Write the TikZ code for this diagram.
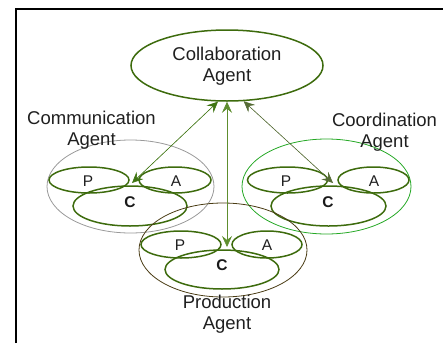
\documentclass[tikz,border=0pt]{standalone}
\usepackage{fontspec}
\setmainfont{Liberation Sans}
\usetikzlibrary{shapes.geometric,arrows.meta}
\definecolor{olivegr}{HTML}{3D6B0D}
\definecolor{arrA}{HTML}{3F7512}
\definecolor{arrB}{HTML}{5E8E2E}
\definecolor{arrC}{HTML}{556B35}
\definecolor{grpgray}{HTML}{9A9A9A}
\definecolor{grpgreen}{HTML}{25A825}
\definecolor{grpbrown}{HTML}{4A3C14}
\tikzset{
  sub/.style={ellipse, draw=olivegr, line width=1.5pt, inner sep=0pt},
  grp/.style={ellipse, line width=0.8pt, inner sep=0pt},
  big/.style={font=\fontsize{18.5}{21}\selectfont, align=center, text=black!88},
  letter/.style={font=\fontsize{15.5}{17}\selectfont, text=black!88},
  bletter/.style={font=\fontsize{15.5}{17}\selectfont\bfseries, text=black!90},
  tipshape/.style={},
  link/.style={line width=0.6pt, {Stealth[length=11pt,width=10pt,inset=4pt]}-{Stealth[length=11pt,width=10pt,inset=4pt]}}
}
\begin{document}
\begin{tikzpicture}[x=1pt,y=-1pt]
\useasboundingbox (0,0) rectangle (443,343);
% frame
\draw[line width=2pt] (16,343) -- (16,9) -- (443,9);

% collaboration agent
\node[sub, minimum width=192pt, minimum height=71pt] (collab) at (227,65.5) {};
\node[big] (collabtxt) at (227,66.5) {Collaboration\\Agent};

% communication agent
\node[grp, draw=grpgray, minimum width=167pt, minimum height=93pt] (comm) at (130.5,186.5) {};
\node[sub, minimum width=80pt, minimum height=26pt] (commP) at (89,180) {};
\node[sub, minimum width=72pt, minimum height=26pt] (commA) at (175,180) {};
\node[sub, minimum width=114pt, minimum height=40pt] (commC) at (130,206) {};
\node[letter] (commPt) at (88,181) {P};
\node[letter] (commAt) at (176,181) {A};
\node[bletter] (commCt) at (130,202) {C};
\node[big] (commtxt) at (91.5,130.5) {Communication\\Agent};

% coordination agent
\node[grp, draw=grpgreen, minimum width=169pt, minimum height=95pt] (coord) at (326.5,186.5) {};
\node[sub, minimum width=80pt, minimum height=26pt] (coordP) at (287.5,180) {};
\node[sub, minimum width=71pt, minimum height=26pt] (coordA) at (373.5,180) {};
\node[sub, minimum width=115pt, minimum height=40pt] (coordC) at (328.5,206) {};
\node[letter] (coordPt) at (286,181) {P};
\node[letter] (coordAt) at (374,181) {A};
\node[bletter] (coordCt) at (328,202) {C};
\node[big] (coordtxt) at (384.5,132.5) {Coordination\\Agent};

% production agent
\node[grp, draw=grpbrown, minimum width=168pt, minimum height=94pt] (prod) at (223,250) {};
\node[sub, minimum width=80pt, minimum height=27pt] (prodP) at (181,244.5) {};
\node[sub, minimum width=70pt, minimum height=27pt] (prodA) at (267,244.5) {};
\node[sub, minimum width=114pt, minimum height=39pt] (prodC) at (222,269.5) {};
\node[letter] (prodPt) at (180,245) {P};
\node[letter] (prodAt) at (267,245) {A};
\node[bletter] (prodCt) at (222,265) {C};
\node[big] (prodtxt) at (227,314) {Production\\Agent};

% connectors
\coordinate (e1) at (132,183);
\coordinate (e2) at (227,247);
\coordinate (e3) at (333,183);
\draw[link, draw=arrA, fill=arrA] (collab.256) -- (e1);
\draw[link, draw=arrB, fill=arrB] (collab.270) -- (e2);
\draw[link, draw=arrC, fill=arrC] (collab.295) -- (e3);
\end{tikzpicture}
\end{document}
